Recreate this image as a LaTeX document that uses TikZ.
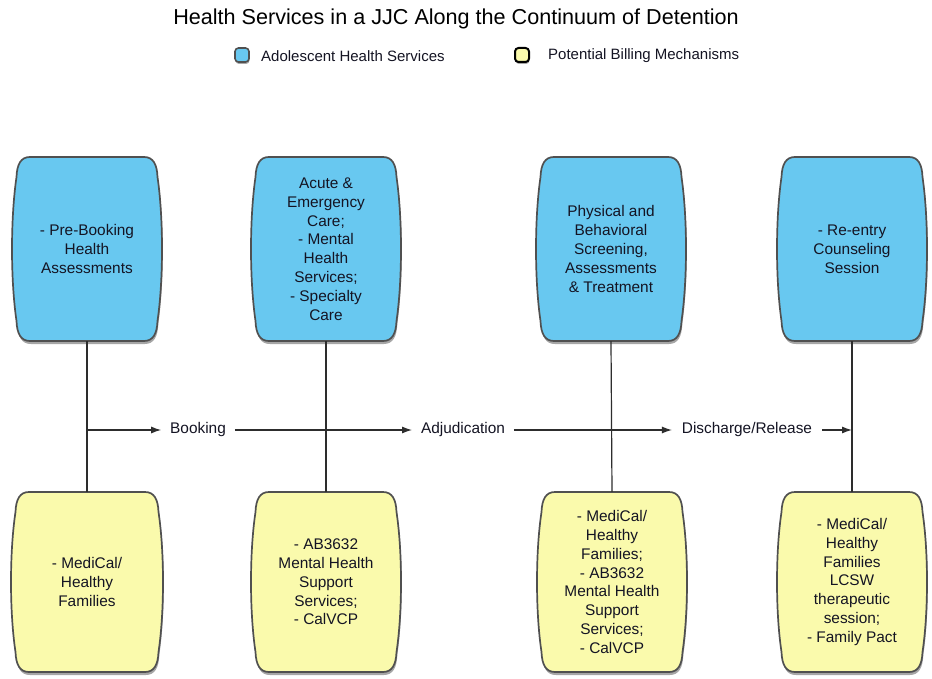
\documentclass[tikz,border=0pt]{standalone}
\usepackage{fontspec}
\setmainfont{Liberation Sans}
\usetikzlibrary{arrows.meta,shadows}
\definecolor{svcblue}{RGB}{104,200,240}
\definecolor{billyel}{RGB}{250,250,172}
\definecolor{edgegray}{RGB}{80,80,80}
\definecolor{linegray}{RGB}{45,45,45}
\definecolor{txt}{RGB}{20,20,35}
\tikzset{
  barrelline/.style={draw=edgegray, line width=1.7pt,
    drop shadow={shadow xshift=0.8pt, shadow yshift=-3pt, fill=black, opacity=0.35}},
  boxtext/.style={shape=rectangle, inner sep=0pt, align=center, text=txt,
    font=\fontsize{15.4}{18.8}\selectfont},
  lbl/.style={inner sep=0pt, outer sep=0pt, minimum width=0pt, text=txt,
    font=\fontsize{15.4}{18.8}\selectfont},
  flow/.style={draw=linegray, line width=1.2pt},
  flowarrow/.style={flow, -{Latex[length=10pt,width=7pt]}},
  legicon/.style={draw=edgegray, line width=1.6pt, rounded corners=3.5pt,
    minimum size=14pt, inner sep=0pt,
    drop shadow={shadow xshift=0.5pt, shadow yshift=-2pt, fill=black, opacity=0.35}},
  legtext/.style={anchor=west, inner sep=0pt, text=txt,
    font=\fontsize{15}{18}\selectfont}
}
\newcommand\barrelbox[7]{%
  \begin{scope}[shift={(#2,#3)}]
    \path[barrelline, fill=#6]
      (-#4+17,-#5) -- (#4-17,-#5)
      .. controls (#4-8,-#5) and (#4-4,-#5+7) .. (#4-3.5,-#5+20)
      .. controls (#4+2.5,-#5/3) and (#4+2.5,#5/3) .. (#4-3.5,#5-20)
      .. controls (#4-4,#5-7) and (#4-8,#5) .. (#4-17,#5)
      -- (-#4+17,#5)
      .. controls (-#4+8,#5) and (-#4+4,#5-7) .. (-#4+3.5,#5-20)
      .. controls (-#4-2.5,#5/3) and (-#4-2.5,-#5/3) .. (-#4+3.5,-#5+20)
      .. controls (-#4+4,-#5+7) and (-#4+8,-#5) .. (-#4+17,-#5) -- cycle;
    \node[boxtext, minimum width=2*#4, minimum height=2*#5] (#1) at (0,0) {#7};
  \end{scope}}
\begin{document}
\begin{tikzpicture}[x=1pt, y=-1pt]
\useasboundingbox[fill=white] (0,0) rectangle (932,679);

% title and legend
\node[text=black, font=\fontsize{21.6}{24}\selectfont] (title) at (456,19)
  {Health Services in a JJC Along the Continuum of Detention};
\node[legicon, fill=svcblue] (legb) at (242,55) {};
\node[legtext] (legbt) at (261,56) {Adolescent Health Services};
\node[legicon, fill=billyel, draw=black, line width=2pt] (legy) at (522,55) {};
\node[legtext] (legyt) at (548,56) {Potential Billing Mechanisms};

% service boxes
\barrelbox{b1}{87}{249}{74}{92}{svcblue}{- Pre-Booking\\Health\\Assessments}
\barrelbox{b2}{326}{249}{74}{92}{svcblue}{Acute \&\\Emergency\\Care;\\- Mental\\Health\\Services;\\- Specialty\\Care}
\barrelbox{b3}{611}{249}{74}{92}{svcblue}{Physical and\\Behavioral\\Screening,\\Assessments\\\& Treatment}
\barrelbox{b4}{852}{249}{74}{92}{svcblue}{- Re-entry\\Counseling\\Session}

% billing boxes
\barrelbox{y1}{87}{582}{75}{90}{billyel}{- MediCal/\\Healthy\\Families}
\barrelbox{y2}{326}{582}{74}{90}{billyel}{- AB3632\\Mental Health\\Support\\Services;\\- CalVCP}
\barrelbox{y3}{612}{582}{74}{90}{billyel}{- MediCal/\\Healthy\\Families;\\- AB3632\\Mental Health\\Support\\Services;\\- CalVCP}
\barrelbox{y4}{852}{582}{74}{90}{billyel}{- MediCal/\\Healthy\\Families\\LCSW\\therapeutic\\session;\\- Family Pact}

% vertical connectors
\draw[flow] (b1.south) -- (y1.north);
\draw[flow] (b2.south) -- (y2.north);
\draw[flow] (b3.south) -- (y3.north);
\draw[flow] (b4.south) -- (y4.north);

% stage labels
\node[lbl] (bk) at (198,430) {Booking};
\node[lbl] (adj) at (463,430) {Adjudication};
\node[lbl] (dis) at (747,430) {Discharge/Release};
\coordinate (hstart) at (b1.south |- bk);
\coordinate (hend) at (b4.south |- bk);

% horizontal flow
\draw[flowarrow] (hstart) -- ([xshift=-9pt]bk.west);
\draw[flowarrow] ([xshift=9pt]bk.east) -- ([xshift=-9pt]adj.west);
\draw[flowarrow] ([xshift=9pt]adj.east) -- ([xshift=-10pt]dis.west);
\draw[flowarrow] ([xshift=10pt]dis.east) -- (hend);
\end{tikzpicture}
\end{document}
